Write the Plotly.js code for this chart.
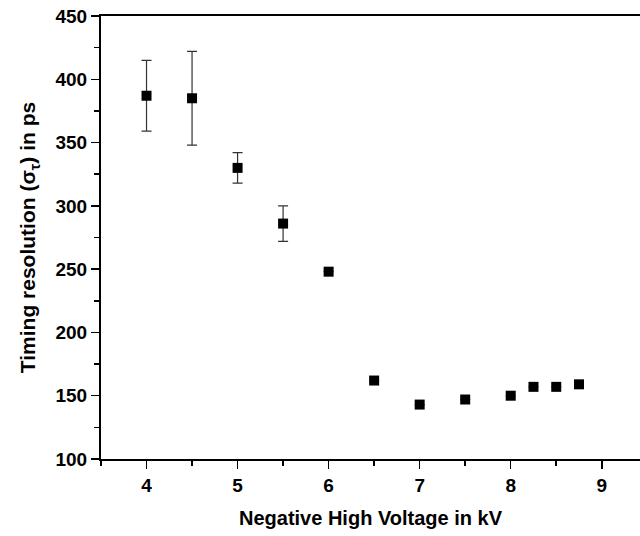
<!DOCTYPE html>
<html>
<head>
<meta charset="utf-8">
<script src="https://cdn.plot.ly/plotly-3.0.1.min.js"></script>
<style>html,body{margin:0;padding:0;background:#fff;}</style>
</head>
<body>
<div id="chart" style="width:640px;height:536px;"></div>
<script>
const voltage = [4, 4.5, 5, 5.5, 6, 6.5, 7, 7.5, 8, 8.25, 8.5, 8.75];
const resolution = [387, 385, 330, 286, 248, 162, 143, 147, 150, 157, 157, 159];
const errorPs = [28, 37, 12, 14, null, null, null, null, null, null, null, null];
const xTicks = [4, 5, 6, 7, 8, 9];
const yTicks = [100, 150, 200, 250, 300, 350, 400, 450];

const font = 'Liberation Sans, Arial, sans-serif';

const trace = {
  x: voltage,
  y: resolution,
  type: 'scatter',
  mode: 'markers',
  marker: {symbol: 'square', size: 10, color: '#000'},
  error_y: {type: 'data', array: errorPs, visible: true, color: '#333', thickness: 1.2, width: 5},
  showlegend: false,
  cliponaxis: false
};

const layout = {
  width: 640,
  height: 536,
  margin: {l: 101, r: 0, t: 16, b: 77},
  paper_bgcolor: '#fff',
  plot_bgcolor: '#fff',
  font: {family: font, color: '#000'},
  xaxis: {
    range: [3.5, 9.42],
    tickvals: xTicks,
    ticktext: xTicks.map(String),
    ticks: 'outside',
    ticklen: 8,
    tickwidth: 1.5,
    tickcolor: '#000',
    minor: {dtick: 0.5, tick0: 3.5, ticks: 'outside', ticklen: 5, tickwidth: 1.5, tickcolor: '#000', showgrid: false},
    showline: true,
    linewidth: 2,
    linecolor: '#000',
    mirror: true,
    showgrid: false,
    zeroline: false,
    tickfont: {family: font, size: 19, color: '#000', weight: 'bold'},
    title: {text: '<b>Negative High Voltage in kV</b>', font: {family: font, size: 20, color: '#000'}, standoff: 16}
  },
  yaxis: {
    range: [100, 450],
    tickvals: yTicks,
    ticktext: yTicks.map(String),
    ticks: 'outside',
    ticklen: 8,
    tickwidth: 1.5,
    tickcolor: '#000',
    minor: {dtick: 25, tick0: 100, ticks: 'outside', ticklen: 5, tickwidth: 1.5, tickcolor: '#000', showgrid: false},
    showline: true,
    linewidth: 2,
    linecolor: '#000',
    mirror: false,
    showgrid: false,
    zeroline: false,
    tickfont: {family: font, size: 19, color: '#000', weight: 'bold'},
    title: {text: '<b>Timing resolution (σ<sub>τ</sub>) in ps</b>', font: {family: font, size: 21, color: '#000'}, standoff: 14}
  }
};

Plotly.newPlot('chart', [trace], layout, {displayModeBar: false, staticPlot: true});
</script>
</body>
</html>
